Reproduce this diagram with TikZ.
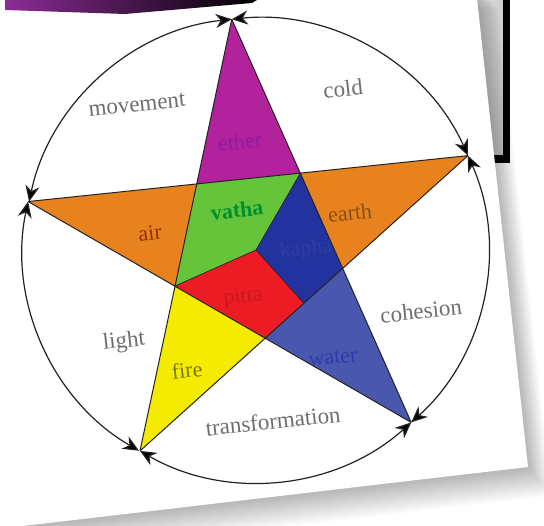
\documentclass[tikz,border=0pt]{standalone}
\usepackage{fontspec}
\setmainfont{Liberation Serif}
\usetikzlibrary{arrows.meta,calc}
\definecolor{bandp}{HTML}{8B2C96}
\definecolor{cmag}{HTML}{B2229C}
\definecolor{corange}{HTML}{E8821E}
\definecolor{cgreen}{HTML}{66C43A}
\definecolor{cdblue}{HTML}{2233A0}
\definecolor{cred}{HTML}{EC1C24}
\definecolor{cyellow}{HTML}{F5EB00}
\definecolor{cwater}{HTML}{4A57AE}
\definecolor{outertxt}{HTML}{6E6E6E}
\definecolor{linecol}{HTML}{222222}
\tikzset{
  region/.style={draw=linecol,line width=0.7pt,line join=round},
  starline/.style={draw=linecol,line width=1pt},
  ringarc/.style={draw=linecol,line width=1.2pt,
     {Stealth[length=16pt,width=14pt,inset=5pt,fill=black]}-{Stealth[length=16pt,width=14pt,inset=5pt,fill=black]}},
  outerlbl/.style={text=outertxt,font=\fontsize{23}{26}\selectfont,rotate=6,inner sep=0pt},
  innerlbl/.style={font=\fontsize{22}{25}\selectfont,rotate=6,inner sep=0pt},
}
\begin{document}
\begin{tikzpicture}[x=1pt,y=1pt]
\useasboundingbox (0,0) rectangle (544,526);
\fill[white] (0,0) rectangle (544,526);
% slide elements behind the card
\shade[left color=gray!18,right color=gray!38] (470,363) rectangle (503,526);
\fill[black] (503,363) rectangle (510,526);
\fill[black] (494,363) rectangle (510,371);
% card shadow
\foreach \i in {1,...,18}{
  \fill[black,opacity=0.016,shift={(\i*1.3,-\i*1.6)}]
    (-30,546) -- (475,546) -- (528,59) -- (40,2) -- (-30,-6) -- cycle;
}
% card
\fill[white] (-30,546) -- (475,546) -- (528,59) -- (40,2) -- (-30,-6) -- cycle;
% top band
\shade[left color=bandp,middle color=bandp!45!black,right color=black]
  (5,526) -- (257,526) -- (252,523) -- (125,512) -- (5,516) -- cycle;
% star geometry
\begin{scope}[shift={(256,276)}]
  \coordinate (M) at (0,0);
  \coordinate (T) at (96:232);
  \coordinate (L) at (168:233);
  \coordinate (BL) at (240:232);
  \coordinate (BR) at (312:232);
  \coordinate (R) at (24:232);
  \coordinate (A) at (132:88.6);
  \coordinate (E) at (204:88.6);
  \coordinate (D) at (276:88.6);
  \coordinate (C) at (348:88.6);
  \coordinate (B) at (60:88.6);
\end{scope}
\coordinate (P) at ($ (C)!0.5!(D) $);
% regions
\fill[cmag] (T) -- (A) -- (B) -- cycle;
\fill[corange] (L) -- (A) -- (E) -- cycle;
\fill[corange] (R) -- (B) -- (C) -- cycle;
\fill[cyellow] (BL) -- (E) -- (D) -- cycle;
\fill[cwater] (BR) -- (D) -- (C) -- cycle;
\fill[cgreen] (A) -- (B) -- (M) -- (E) -- cycle;
\fill[cdblue] (B) -- (C) -- (P) -- (M) -- cycle;
\fill[cred] (E) -- (M) -- (P) -- (D) -- cycle;
\draw[region] (B) -- (M) -- (E) (M) -- (P);
\draw[starline] (T) -- (BL) (T) -- (BR) (L) -- (R) (L) -- (BR) (R) -- (BL);
% ring arcs
\draw[ringarc] (T) arc[start angle=96,end angle=168,radius=232];
\draw[ringarc] (L) arc[start angle=168,end angle=240,radius=232];
\draw[ringarc] (BL) arc[start angle=240,end angle=312,radius=232];
\draw[ringarc] (BR) arc[start angle=312,end angle=384,radius=232];
\draw[ringarc] (R) arc[start angle=24,end angle=96,radius=232];
% outer labels
\node[outerlbl] (lmove) at (137,421) {movement};
\node[outerlbl] (lcold) at (343,437) {cold};
\node[outerlbl] (llight) at (124,184) {light};
\node[outerlbl] (lcoh) at (421,215) {cohesion};
\node[outerlbl] (ltrans) at (273,105) {transformation};
% inner labels
\node[innerlbl,text=cmag!85!blue!95!black] (lether) at (240,384) {ether};
\node[innerlbl,text=corange!60!red!60!black] (lair) at (150,293) {air};
\node[innerlbl,text=corange!60!black] (learth) at (350,313) {earth};
\node[innerlbl,text=green!50!teal!75!black,font=\fontsize{22}{25}\selectfont\bfseries] (lvatha) at (237,316) {vatha};
\node[innerlbl,text=cdblue!95!white] (lkapha) at (306,276) {kapha};
\node[innerlbl,text=cred!85!black] (lpitta) at (243,228) {pitta};
\node[innerlbl,text=cyellow!50!black] (lfire) at (187,156) {fire};
\node[innerlbl,text=cdblue!95!white] (lwater) at (333,168) {water};
\end{tikzpicture}
\end{document}
